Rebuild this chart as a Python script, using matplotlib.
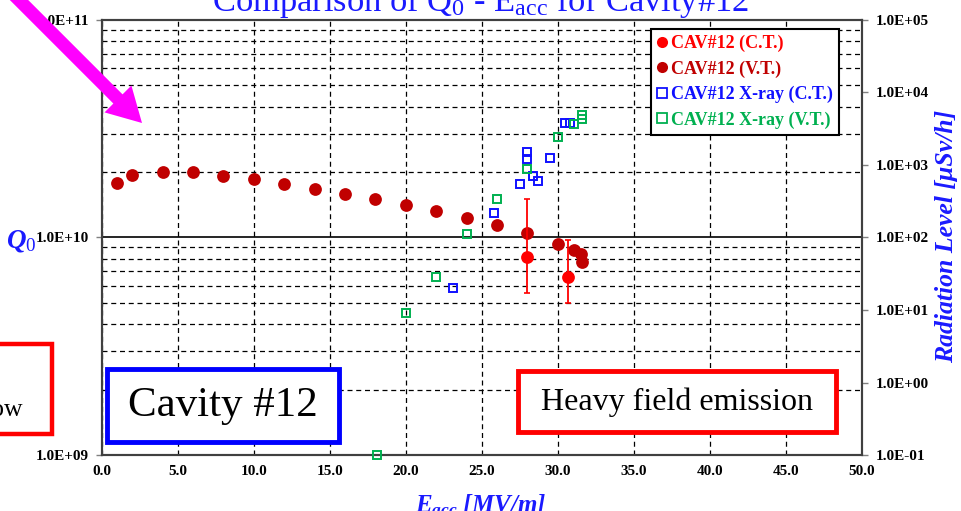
import numpy as np
import matplotlib
matplotlib.use("Agg")
import matplotlib.pyplot as plt
from matplotlib.lines import Line2D
from matplotlib.patches import Rectangle, FancyArrow
from matplotlib.ticker import FixedLocator, FuncFormatter, LogLocator, NullFormatter

plt.rcParams["font.family"] = ["Liberation Serif", "DejaVu Serif"]
plt.rcParams["mathtext.fontset"] = "custom"
plt.rcParams["mathtext.rm"] = "Liberation Serif"
plt.rcParams["mathtext.it"] = "Liberation Serif:italic:bold"
plt.rcParams["mathtext.bf"] = "Liberation Serif:bold"

# ---- data -------------------------------------------------------------
# Q0 vs Eacc, vertical test
vt_eacc = [1, 2, 4, 6, 8, 10, 12, 14, 16, 18, 20, 22, 24, 26, 28, 30, 31.1, 31.5, 31.6]
vt_q0 = [1.78e10, 1.94e10, 2.01e10, 1.99e10, 1.92e10, 1.86e10, 1.77e10, 1.67e10,
         1.58e10, 1.50e10, 1.41e10, 1.33e10, 1.23e10, 1.14e10, 1.045e10, 9.33e9,
         8.79e9, 8.40e9, 7.69e9]

# Q0 vs Eacc, cryomodule test (with error range)
ct_eacc = [28.0, 30.7]
ct_q0 = [8.16e9, 6.58e9]
ct_q0_hi = [1.51e10, 9.74e9]
ct_q0_lo = [5.57e9, 4.98e9]

# radiation level, cryomodule test
xct_eacc = [23.1, 25.8, 27.5, 28.0, 28.0, 28.4, 28.7, 29.5, 30.5, 30.8]
xct_rad = [19.9, 220, 552, 1511, 1222, 705, 601, 1235, 3850, 3850]

# radiation level, vertical test
xvt_eacc = [18.1, 20.0, 22.0, 24.05, 26.0, 28.0, 30.0, 31.1, 31.6, 31.6]
xvt_rad = [0.1, 9.1, 28.3, 112, 343, 889, 2410, 3640, 4895, 4310]

x_ticks = [0, 5, 10, 15, 20, 25, 30, 35, 40, 45, 50]
q_ticks = [1e9, 1e10, 1e11]
rad_ticks = [1e-1, 1e0, 1e1, 1e2, 1e3, 1e4, 1e5]

labels = ["CAV#12 (C.T.)", "CAV#12 (V.T.)", "CAV#12 X-ray (C.T.)", "CAV#12 X-ray (V.T.)"]
c_ct = "#ff0000"
c_vt = "#c00000"
c_xct = "#1010ff"
c_xvt = "#00b050"
blue_txt = "#1a1aff"

# ---- figure -----------------------------------------------------------
W, H = 961, 511
fig = plt.figure(figsize=(W / 100, H / 100), dpi=100)

L, R, T, B = 101.7, 861.7, 20.0, 455.0
ax = fig.add_axes([L / W, 1 - B / H, (R - L) / W, (B - T) / H])
ax.set_xlim(0, 50)
ax.set_yscale("log")
ax.set_ylim(1e9, 1e11)
ax.xaxis.set_major_locator(FixedLocator(x_ticks))
ax.xaxis.set_major_formatter(FuncFormatter(lambda v, p: f"{v:.1f}"))
ax.yaxis.set_major_locator(FixedLocator(q_ticks))
ax.yaxis.set_minor_locator(LogLocator(base=10, subs=np.arange(2, 10)))
ax.yaxis.set_minor_formatter(NullFormatter())
ax.yaxis.set_major_formatter(FuncFormatter(lambda v, p: f"{v:.1E}"))

dash = (0, (4, 3))
ax.grid(which="major", axis="x", color="black", lw=0.9, ls=dash)
ax.grid(which="minor", axis="y", color="black", lw=0.9, ls=dash)
ax.grid(which="major", axis="y", color="black", lw=1.2, ls="-")
ax.set_axisbelow(True)

tick_font = dict(family="Liberation Serif", weight="bold", size=11)
ax.tick_params(axis="x", length=0, pad=7)
ax.tick_params(axis="y", which="major", length=4, width=1, direction="out", pad=5, color="#808080")
ax.tick_params(axis="y", which="minor", length=0)
for lab in ax.get_xticklabels() + ax.get_yticklabels():
    lab.set_fontproperties(tick_font)
for s in ax.spines.values():
    s.set_color("#404040")
    s.set_linewidth(1.5)

axr = ax.twinx()
axr.set_yscale("log")
axr.set_ylim(1e-1, 1e5)
axr.yaxis.set_major_locator(FixedLocator(rad_ticks))
axr.yaxis.set_minor_locator(FixedLocator([]))
axr.yaxis.set_major_formatter(FuncFormatter(lambda v, p: f"{v:.1E}"))
axr.tick_params(axis="y", which="major", length=4, width=1, direction="out", pad=6, color="#808080")
for lab in axr.get_yticklabels():
    lab.set_fontproperties(tick_font)
for s in axr.spines.values():
    s.set_color("#404040")
    s.set_linewidth(1.5)

# Q0 points
ax.plot(vt_eacc, vt_q0, "o", color=c_vt, ms=9.2, mec="none", zorder=3, clip_on=False)
yerr = [np.array(ct_q0) - np.array(ct_q0_lo), np.array(ct_q0_hi) - np.array(ct_q0)]
ax.errorbar(ct_eacc, ct_q0, yerr=yerr, fmt="o", color=c_ct, ms=9.2, mec="none",
            elinewidth=1.3, capsize=2, capthick=1.2, zorder=4)

# radiation points
axr.plot(xct_eacc, xct_rad, "s", ms=6.2, mfc="none", mec=c_xct, mew=1.4, zorder=3, clip_on=False)
axr.plot(xvt_eacc, xvt_rad, "s", ms=6.2, mfc="none", mec=c_xvt, mew=1.4, zorder=4, clip_on=False)

# legend
handles = [
    Line2D([], [], ls="none", marker="o", ms=8, color=c_ct, mec="none"),
    Line2D([], [], ls="none", marker="o", ms=8, color=c_vt, mec="none"),
    Line2D([], [], ls="none", marker="s", ms=6.5, mfc="none", mec=c_xct, mew=1.3),
    Line2D([], [], ls="none", marker="s", ms=6.5, mfc="none", mec=c_xvt, mew=1.3),
]
leg = axr.legend(handles, labels, loc="upper left",
                 bbox_to_anchor=(651 / W, 1 - 29 / H), bbox_transform=fig.transFigure,
                 borderaxespad=0, frameon=True, fancybox=False, framealpha=1,
                 edgecolor="black", handlelength=0.6, handletextpad=0.2,
                 labelspacing=0.45, borderpad=0.33,
                 prop=dict(family="Liberation Serif", weight="bold", size=13))
leg.get_frame().set_linewidth(1.5)
for txt, c in zip(leg.get_texts(), [c_ct, c_vt, c_xct, c_xvt]):
    txt.set_color(c)

# ---- annotations layer in pixel coordinates ---------------------------
ov = fig.add_axes([0, 0, 1, 1], zorder=10)
ov.set_xlim(0, W)
ov.set_ylim(H, 0)
ov.axis("off")
ov.patch.set_visible(False)

ov.text(481, 11, r"Comparison of Q$_\mathrm{0}$ - E$_\mathrm{acc}$ for Cavity#12",
        ha="center", va="baseline", color=blue_txt, fontsize=24.8,
        family="Liberation Serif")

ov.text(6, 248, r"$\mathit{Q_{0}}$", ha="left", va="baseline", color=blue_txt, fontsize=19.5)
ov.text(481, 512, r"$\mathit{E_{acc}}$ [MV/m]", ha="center", va="baseline",
        color=blue_txt, fontsize=18, weight="bold", style="italic")
ov.text(947, 236, "Radiation Level [μSv/h]", rotation=90, ha="center", va="center",
        color=blue_txt, fontsize=18.5, weight="bold", style="italic")

# boxed notes
ov.add_patch(Rectangle((-10, 344), 62, 90, fill=True, fc="white", ec="#ff0000", lw=3.2))
ov.text(23, 416, "low", ha="right", va="baseline", fontsize=18.5, color="black")

ov.add_patch(Rectangle((107, 369.5), 232, 72.5, fc="white", ec="#0000ff", lw=3.5))
ov.text(223, 406, "Cavity #12", ha="center", va="center", fontsize=31, color="black")

ov.add_patch(Rectangle((518, 371), 318, 61.5, fc="white", ec="#ff0000", lw=3.5))
ov.text(677, 402, "Heavy field emission", ha="center", va="center", fontsize=23, color="black")

# pointer arrow
ov.add_patch(FancyArrow(-5, -24, 147, 147, width=13, head_width=38,
                        head_length=34, length_includes_head=True,
                        fc="#ff00ff", ec="none"))

fig.savefig("out.png", dpi=100)
